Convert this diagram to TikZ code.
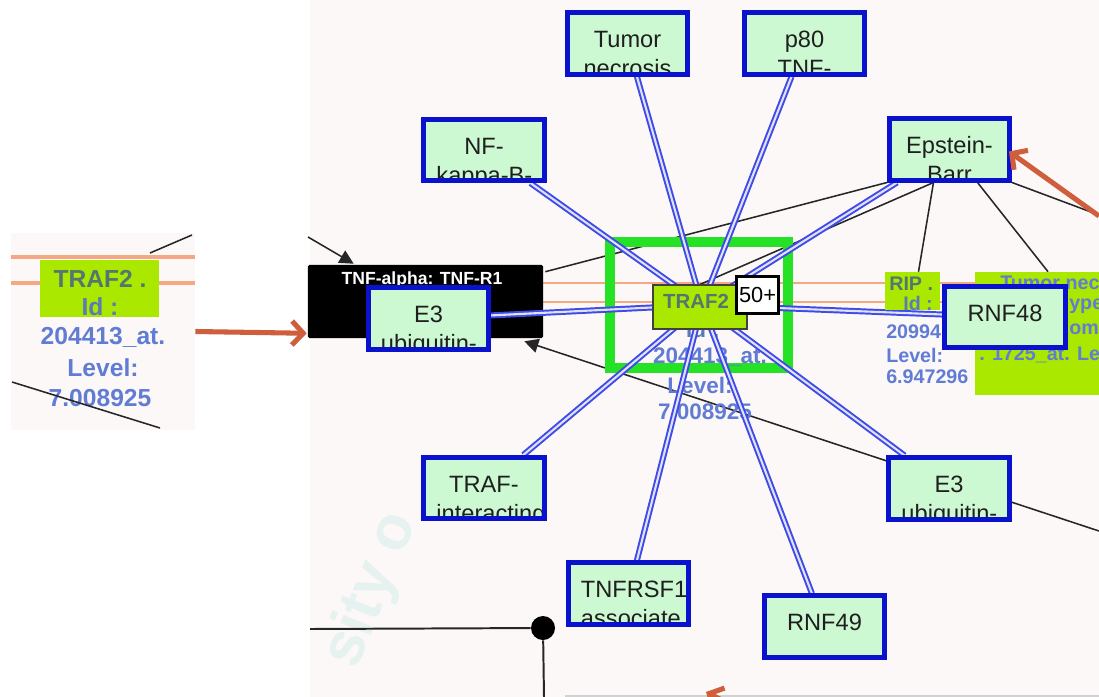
\documentclass[tikz,border=0pt]{standalone}
\usepackage{fontspec}
\setmainfont{Liberation Sans}
\usetikzlibrary{arrows.meta,positioning,calc,backgrounds}
\definecolor{geneblue}{RGB}{10,18,205}
\definecolor{genefill}{RGB}{204,248,210}
\definecolor{edgeblue}{RGB}{64,74,228}
\definecolor{edgecore}{RGB}{222,226,255}
\definecolor{labelgreen}{RGB}{170,232,0}
\definecolor{hubgreen}{RGB}{38,226,38}
\definecolor{slidered}{RGB}{206,94,60}
\definecolor{linkorange}{RGB}{246,168,132}
\definecolor{panelpink}{RGB}{253,248,248}
\definecolor{probeblue}{RGB}{96,124,212}
\definecolor{nameteal}{RGB}{84,118,112}
\definecolor{markteal}{RGB}{229,242,239}

% one text line of a gene box: centred, or left aligned when it overflows
\newcommand{\genetxt}[1]{\setbox0=\hbox{#1}%
  \ifdim\wd0>2.375cm\hbox to 2.375cm{\box0\hss}\else\hbox to 2.375cm{\hss\box0\hss}\fi}

\begin{document}
\begin{tikzpicture}[x=0.025cm, y=-0.025cm,
    gene/.style 2 args={draw=geneblue, fill=genefill, line width=0.125cm,
        minimum width=3cm, minimum height=1.525cm, inner sep=0pt,
        path picture={
            \node[genetext] at ([yshift=-0.8625cm]path picture bounding box.north) {\genetxt{#1}};
            \node[genetext] at ([yshift=-1.5875cm]path picture bounding box.north) {\genetxt{#2}};}},
    genetext/.style={anchor=base, inner sep=0pt, text=black!88, font=\fontsize{16.8}{20}\selectfont},
    probetext/.style={inner sep=0pt, text=probeblue, font=\fontsize{16}{19}\selectfont\bfseries},
    riptext/.style={inner sep=0pt, anchor=west, text=probeblue, font=\fontsize{14}{17}\selectfont\bfseries},
    zoomtext/.style={inner sep=0pt, text=probeblue, font=\fontsize{17.5}{21}\selectfont\bfseries},
    namebox/.style={fill=labelgreen, inner sep=0pt},
    blueedge/.style={draw=edgeblue, line width=1.4pt, double=edgecore, double distance=1.5pt},
    blackline/.style={draw=black!85, line width=1.1pt},
    blackarrow/.style={blackline, -{Triangle[length=10pt, width=10pt]}},
    redarrow/.style={draw=slidered, line width=3.6pt, -{Straight Barb[length=8pt, width=17pt]}},
    orangeline/.style={draw=linkorange, line width=1.6pt}
]
\useasboundingbox (0,0) rectangle (1099,697);
\clip (0,0) rectangle (1099,697);

% Backdrop
\begin{scope}[on background layer]
    \clip (0,0) rectangle (1099,697);
    \fill[white] (0,0) rectangle (1099,697);
    \fill[panelpink] (310,0) rectangle (1099,697);
    \node[rotate=68, text=markteal, font=\fontsize{44}{50}\selectfont\bfseries] (watermark) at (372,590) {sity o};
\end{scope}

% Zoomed copy of the hub label
\node[fill=panelpink, minimum width=4.6cm, minimum height=4.925cm, inner sep=0pt] (inset) at (103,331.5) {};
\coordinate (zoomA1) at (11,257);  \coordinate (zoomA2) at (195,257);
\coordinate (zoomB1) at (11,283);  \coordinate (zoomB2) at (195,283);
\coordinate (zoomC1) at (192,235); \coordinate (zoomC2) at (150,253);
\coordinate (zoomD1) at (12,382);  \coordinate (zoomD2) at (160,428);
\draw[orangeline, line width=2.2pt] (zoomA1) -- (zoomA2) (zoomB1) -- (zoomB2);
\draw[blackline] (zoomC1) -- (zoomC2);
\node[namebox, minimum width=2.975cm, minimum height=1.425cm] (zoomlbl) at (99.5,288.5) {};
\node[zoomtext, text=nameteal] (zoomname) at (100,279) {TRAF2 .};
\node[zoomtext, text=probeblue!70!nameteal] (zoomid) at (100,307) {Id :};
\node[zoomtext] (zoomprobe) at (103,337) {204413\_at.};
\node[zoomtext] (zoomlevel) at (103,368) {Level:};
\node[zoomtext] (zoomvalue) at (100,398) {7.008925};
\draw[blackline] (zoomD1) -- (zoomD2);

% Gene boxes, top row
\node[gene={Tumor}{necrosis}] (tumor) at (627.5,43.5) {};
\node[gene={p80}{TNF-}] (p80) at (804.5,43.5) {};
\node[gene={NF-}{kappa-B-}] (nfkb) at (484,150) {};
\node[gene={Epstein-}{Barr}] (epstein) at (949.5,149.5) {};

% Neighbour labels
\node[namebox, minimum width=1.375cm, minimum height=0.95cm] (riplbl) at (912.5,291) {};
\node[riptext, text=nameteal] (ripname) at (889,284) {RIP .};
\node[riptext, text=probeblue!70!nameteal] (ripid) at (903,303) {Id :};
\node[riptext] (ripprobe) at (886,332) {20994};
\node[riptext] (riplevel) at (886,355) {Level:};
\node[riptext] (ripvalue) at (886,377) {6.947296};
\node[namebox, minimum width=3.25cm, minimum height=3.075cm] (tnflbl) at (1040,333.5) {};
\node[riptext] (tnfname) at (1000,283) {Tumor necr};
\node[riptext] (tnftype) at (1069,306) {ype};
\node[riptext] (tnfoma) at (1069,329) {oma};
\node[riptext] (tnfprobe) at (979,355) {. 1725\_at. Lev};

% Gene boxes, middle and bottom
\node[gene={E3}{ubiquitin-}] (e3left) at (428.5,318.5) {};
\node[gene={RNF48}{}] (rnf48) at (1005,317) {};
\node[gene={TRAF-}{interacting}] (traf) at (484,488) {};
\node[gene={TNFRSF1A}{associate}] (tnfrsf) at (628.5,593.5) {};
\node[gene={RNF49}{}] (rnf49) at (824.5,626.5) {};
\node[gene={E3}{ubiquitin-}] (e3right) at (949,488.5) {};

% Hub label
\node[namebox, draw=black!75, line width=0.8pt, minimum width=2.35cm, minimum height=1.1cm] (hublbl) at (700,307) {};
\node[inner sep=0pt, text=nameteal, font=\fontsize{14.5}{17}\selectfont\bfseries] (hubname) at (696,301) {TRAF2};
\node[draw=black, fill=white, line width=2.1pt, minimum width=1.05cm, minimum height=0.925cm, inner sep=0pt,
      font=\fontsize{15.5}{18}\selectfont] (count) at (757.5,295) {50+};

% Links, under the boxes
\begin{scope}[on background layer]
    \clip (0,0) rectangle (1099,697);
    \coordinate (orA1) at (310,283); \coordinate (orA2) at (1099,283);
    \coordinate (orB1) at (310,302); \coordinate (orB2) at (1099,302);
    \draw[orangeline] (orA1) -- (orA2) (orB1) -- (orB2);

    \node[fill=black, minimum width=5.875cm, minimum height=1.825cm, inner sep=0pt, rounded corners=1pt] (tnfbox) at (425.5,301.5) {};
    \node[inner sep=0pt, text=white, font=\fontsize{12.5}{15}\selectfont\bfseries] (tnftitle) at (422,280) {TNF-alpha: TNF-R1};

    \coordinate (tnfin) at (308,237);
    \coordinate (eastA) at (1099,215);
    \coordinate (eastB) at (1099,531);
    \coordinate (ebase) at ($(epstein.south)+(-16,0)$);
    \draw[blackarrow] (tnfin) -- ($(tnfbox.north west)+(46,-1)$);
    \draw[blackarrow] (eastB) -- ($(tnfbox.south east)+(-19,3)$);
    \draw[blackline] ($(tnfbox.north east)+(2,7)$) -- (epstein.south west);
    \draw[blackline] (hublbl.north) -- (ebase);
    \draw[blackline] (ebase) -- ($(riplbl.north)+(6,0)$);
    \draw[blackline] ($(epstein.south)+(28,0)$) -- ($(tnflbl.north)+(8,0)$);
    \draw[blackline] (epstein.south east) -- (eastA);

    \node[draw=hubgreen, line width=0.25cm, minimum width=4.45cm, minimum height=3.15cm] (hubsq) at (699,305) {};
    \node[probetext, text=probeblue!70!nameteal] (hubid) at (703,329) {Id :};
    \node[probetext] (hubprobe) at (710,357) {204413\_at.};
    \node[probetext] (hublevel) at (700,385) {Level:};
    \node[probetext] (hubvalue) at (705,412) {7.008925};

    \coordinate (hub) at (702,305);
    \foreach \g in {tumor,p80,nfkb,epstein,e3left,rnf48,traf,tnfrsf,rnf49,e3right}
        \draw[blueedge] (\g) -- (hub);
\end{scope}

% Lower left junction
\node[circle, fill=black, inner sep=0pt, minimum size=0.6cm] (junction) at (543,628) {};
\coordinate (juncW) at (310,629);
\coordinate (juncS) at (544,697);
\draw[blackline, line width=1.4pt] (juncW) -- (junction) -- (juncS);
\coordinate (baseW) at (565,696);
\coordinate (baseE) at (1099,696);
\draw[gray!35, line width=1.2pt] (baseW) -- (baseE);

% Slide arrows
\coordinate (redE) at (1099,216);
\coordinate (redS) at (745,712);
\coordinate (redStip) at (706,692);
\draw[redarrow] (inset.east) -- ($(tnfbox.south west)+(-1,-5)$);
\draw[redarrow] (redE) -- ($(epstein.east)+(-3,2)$);
\draw[redarrow] (redS) -- (redStip);

\end{tikzpicture}
\end{document}
